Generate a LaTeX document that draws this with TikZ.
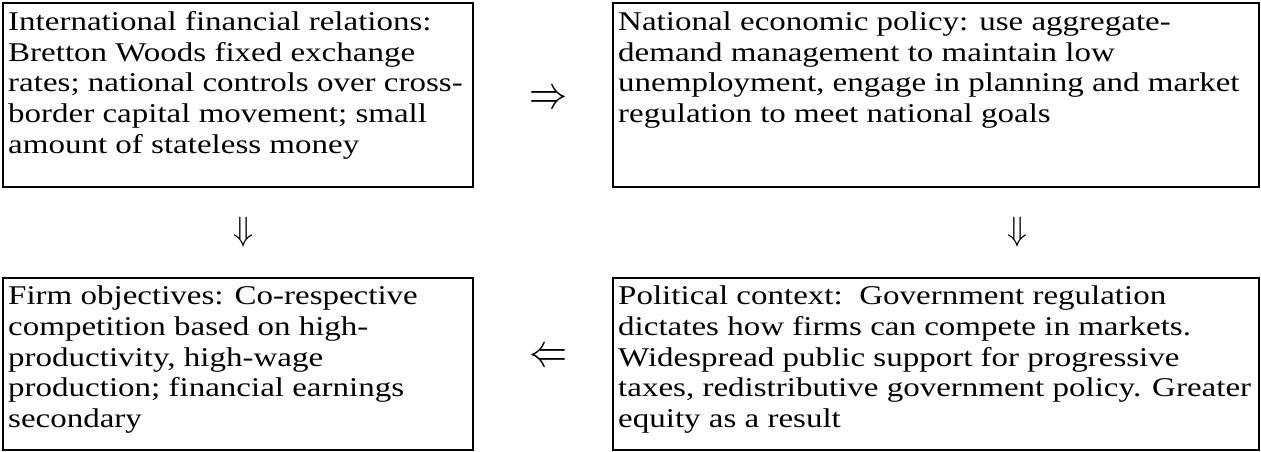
\documentclass[tikz,border=0pt]{standalone}
\usepackage{fontspec}
\setmainfont{Liberation Serif}
\usepackage{graphicx}
\newcommand{\boxtxt}[1]{\scalebox{1}[0.82]{\parbox[t]{700pt}{\fontsize{33}{37.8}\selectfont\raggedright\hyphenpenalty=10000 #1}}}
\tikzset{
  box/.style={draw, line width=1.7pt, anchor=north west, inner sep=0pt},
  boxtext/.style={anchor=base west, inner sep=0pt},
  arr/.style={inner sep=0pt}
}
\begin{document}
\begin{tikzpicture}[x=1pt,y=-1pt]
\useasboundingbox (0,0) rectangle (1261,451);
\node[box, minimum width=470pt, minimum height=184pt] (b1) at (2,2) {};
\node[box, minimum width=646pt, minimum height=184pt] (b2) at (612,2) {};
\node[box, minimum width=470pt, minimum height=172pt] (b3) at (2,277) {};
\node[box, minimum width=646pt, minimum height=172pt] (b4) at (612,277) {};
\node[boxtext] (t1) at (8,30) {\boxtxt{International financial relations:\\
Bretton Woods fixed exchange\\
rates; national controls over cross-\\
border capital movement; small\\
amount of stateless money}};
\node[boxtext] (t2) at (618,30) {\boxtxt{National economic policy: use aggregate-\\
demand management to maintain low\\
unemployment, engage in planning and market\\
regulation to meet national goals}};
\node[boxtext] (t3) at (8,304) {\boxtxt{Firm objectives: Co-respective\\
competition based on high-\\
productivity, high-wage\\
production; financial earnings\\
secondary}};
\node[boxtext] (t4) at (618,304) {\boxtxt{Political context:\ \ Government regulation\\
dictates how firms can compete in markets.\\
Widespread public support for progressive\\
taxes, redistributive government policy. Greater\\
equity as a result}};
\node[arr] (a1) at (548,100) {\resizebox*{38pt}{17pt}{$\Rightarrow$}};
\node[arr] (a2) at (243,232) {\resizebox*{20pt}{30pt}{$\Downarrow$}};
\node[arr] (a3) at (1017,232) {\resizebox*{20pt}{30pt}{$\Downarrow$}};
\node[arr] (a4) at (548,358) {\resizebox*{38pt}{17pt}{$\Leftarrow$}};
\end{tikzpicture}
\end{document}
